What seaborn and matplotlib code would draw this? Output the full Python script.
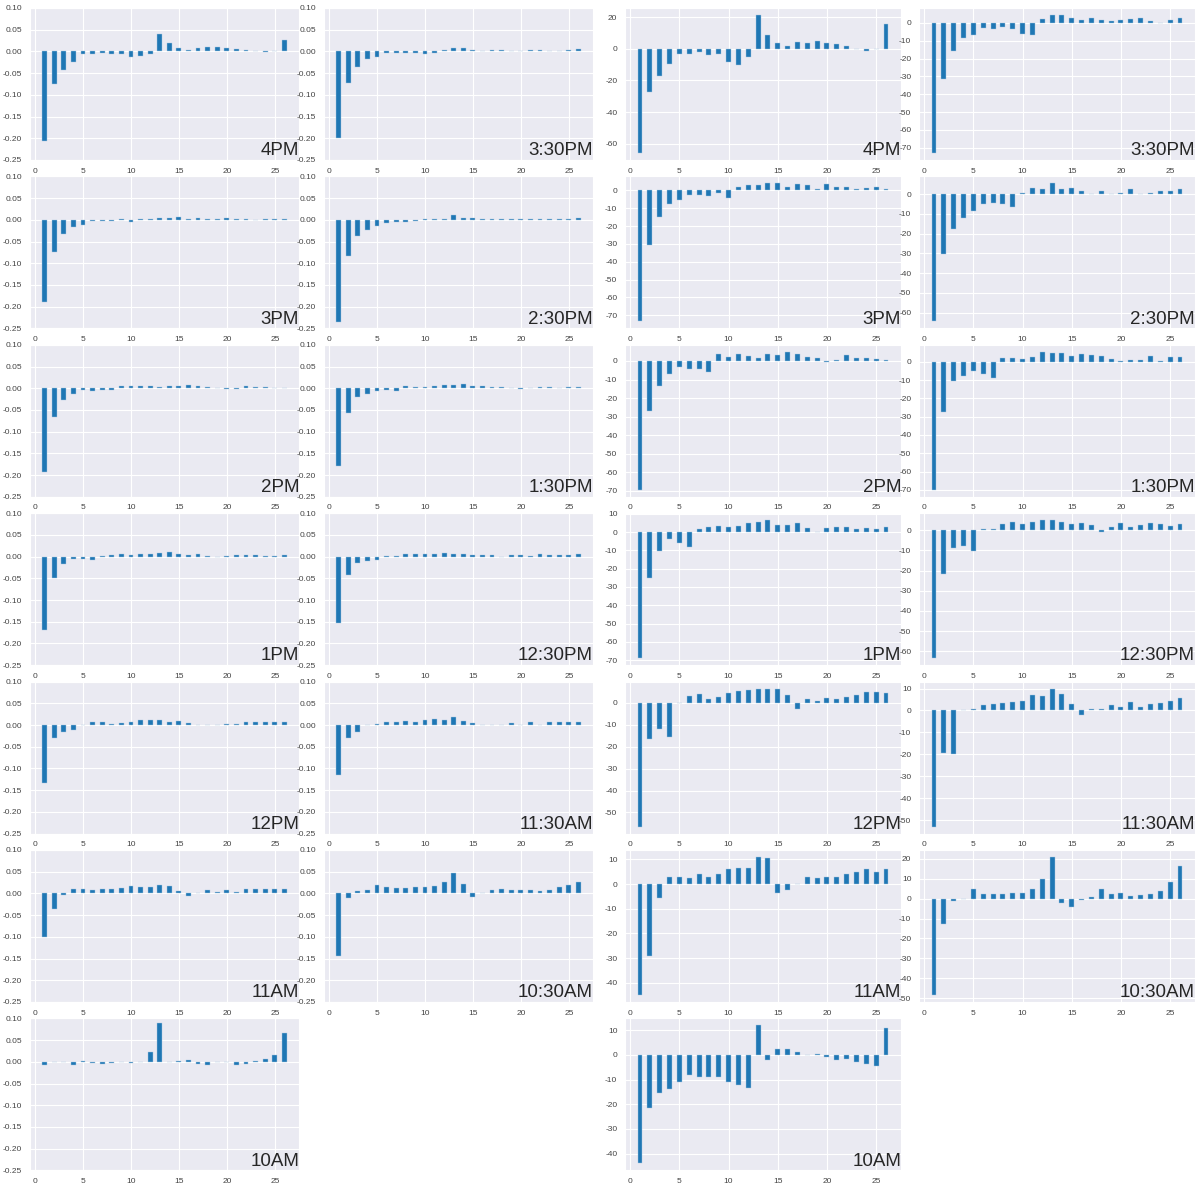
import matplotlib
matplotlib.use("Agg")
import matplotlib.pyplot as plt
import seaborn as sns
from matplotlib.ticker import MaxNLocator, MultipleLocator

sns.set_style("darkgrid")
plt.rcParams["font.family"] = ["Liberation Sans", "DejaVu Sans"]
plt.rcParams["axes.unicode_minus"] = False

lags = list(range(1, 27))
labels = ["4PM", "3:30PM", "3PM", "2:30PM", "2PM", "1:30PM", "1PM",
          "12:30PM", "12PM", "11:30AM", "11AM", "10:30AM", "10AM"]

# left block: autocorrelation of returns
left_4pm = [-0.207, -0.075, -0.042, -0.024, -0.007, -0.007, -0.004, -0.006, -0.005, -0.013, -0.011, -0.005, 0.040,
            0.019, 0.007, 0.003, 0.009, 0.010, 0.010, 0.007, 0.006, 0.003, 0.000, -0.001, 0.000, 0.026]
left_330pm = [-0.200, -0.072, -0.035, -0.017, -0.013, -0.004, -0.004, -0.003, -0.003, -0.005, -0.004, 0.003, 0.008,
              0.008, 0.003, 0.002, 0.004, 0.003, 0.002, 0.001, 0.003, 0.003, 0.000, 0.000, 0.003, 0.005]
left_3pm = [-0.190, -0.073, -0.033, -0.016, -0.011, -0.003, -0.002, -0.002, 0.001, -0.004, 0.002, 0.003, 0.005,
            0.005, 0.006, 0.003, 0.005, 0.003, 0.001, 0.005, 0.003, 0.001, 0.000, 0.002, 0.003, 0.001]
left_230pm = [-0.235, -0.084, -0.038, -0.023, -0.015, -0.008, -0.005, -0.004, -0.002, 0.001, 0.003, 0.003, 0.010,
              0.005, 0.005, 0.003, 0.001, 0.003, 0.001, 0.001, 0.003, 0.001, 0.001, 0.003, 0.003, 0.005]
left_2pm = [-0.193, -0.066, -0.028, -0.014, -0.004, -0.006, -0.004, -0.003, 0.006, 0.004, 0.005, 0.004, 0.002,
            0.006, 0.006, 0.008, 0.006, 0.003, 0.001, -0.001, -0.001, 0.005, 0.002, 0.002, 0.001, 0.001]
left_130pm = [-0.180, -0.057, -0.020, -0.013, -0.007, -0.005, -0.006, 0.004, 0.003, 0.003, 0.004, 0.008, 0.008,
              0.009, 0.005, 0.006, 0.003, 0.003, 0.001, -0.001, 0.001, 0.002, 0.003, 0.001, 0.003, 0.003]
left_1pm = [-0.169, -0.050, -0.017, -0.005, -0.005, -0.007, 0.002, 0.004, 0.006, 0.004, 0.006, 0.007, 0.008,
            0.010, 0.006, 0.004, 0.005, 0.001, 0.000, 0.001, 0.004, 0.004, 0.003, 0.002, 0.001, 0.003]
left_1230pm = [-0.152, -0.042, -0.014, -0.009, -0.007, 0.001, 0.001, 0.005, 0.006, 0.006, 0.006, 0.008, 0.006,
               0.006, 0.004, 0.004, 0.003, 0.000, 0.003, 0.003, 0.001, 0.005, 0.004, 0.004, 0.004, 0.005]
left_12pm = [-0.134, -0.029, -0.015, -0.011, 0.001, 0.006, 0.007, 0.002, 0.005, 0.008, 0.012, 0.011, 0.011,
             0.008, 0.009, 0.004, 0.000, 0.001, 0.001, 0.003, 0.003, 0.006, 0.006, 0.007, 0.008, 0.006]
left_1130am = [-0.115, -0.029, -0.017, 0.001, 0.002, 0.008, 0.007, 0.009, 0.008, 0.011, 0.014, 0.012, 0.018,
               0.010, 0.004, 0.000, 0.001, 0.001, 0.005, 0.001, 0.006, 0.001, 0.006, 0.007, 0.007, 0.008]
left_11am = [-0.100, -0.037, -0.003, 0.010, 0.010, 0.009, 0.011, 0.010, 0.012, 0.016, 0.015, 0.015, 0.020,
             0.017, 0.005, -0.005, 0.000, 0.007, 0.004, 0.007, 0.004, 0.010, 0.010, 0.010, 0.010, 0.011]
left_1030am = [-0.143, -0.010, 0.005, 0.009, 0.019, 0.015, 0.012, 0.012, 0.015, 0.014, 0.017, 0.027, 0.048,
               0.021, -0.008, 0.000, 0.007, 0.010, 0.008, 0.008, 0.008, 0.005, 0.009, 0.014, 0.020, 0.027]
left_10am = [-0.008, 0.000, 0.000, -0.008, 0.001, -0.003, -0.005, -0.003, -0.001, -0.003, 0.000, 0.023, 0.090,
             0.000, 0.001, 0.005, -0.004, -0.008, 0.000, 0.000, -0.008, -0.004, 0.002, 0.007, 0.016, 0.066]

# right block: t-statistics
right_4pm = [-66, -27, -17, -9.5, -3, -3, -2, -4, -3, -8.5, -10, -5, 21.5,
             9, 4, 1.5, 4.5, 4, 5, 4, 3, 1.5, 0, -1.5, 0, 15.5]
right_330pm = [-73, -31.5, -15.5, -8.5, -6.5, -3, -3.5, -2.5, -3.5, -6, -7, 2, 4.5,
               4.5, 2.5, 1.5, 2.5, 1.5, 1, 1.5, 2, 3, 1, 0, 1.5, 2.5]
right_3pm = [-73.5, -30.5, -15, -7.5, -5.5, -2.5, -2.5, -3, -1.5, -4.5, 2, 3, 3,
             4, 4, 2, 3.5, 3, 1, 3.5, 2, 2, 1, 1.5, 2, 1]
right_230pm = [-64.5, -30.5, -17.5, -12, -8.5, -5, -4.5, -5, -6.5, 0.7, 3, 2.5, 5.5,
               2.5, 3, 1.5, 0.2, 1.5, 0.3, 0.5, 2.5, 0.2, 0.5, 1.5, 1.5, 2.5]
right_2pm = [-69.5, -27, -13.5, -7, -3, -4.5, -4.5, -6, 3.5, 2, 3.5, 2.5, 1.5,
             3.5, 3, 5, 3.5, 2, 1.5, -0.5, 0.5, 3, 1.5, 1.5, 1, 0.5]
right_130pm = [-70, -27.5, -10.5, -7.5, -5, -6.5, -9, 2, 2, 1.5, 2.5, 5.5, 5,
               5, 3, 4.5, 3.5, 3, 1.5, 0.3, 1, 1, 3, 0.2, 2.5, 2.5]
right_1pm = [-69, -25, -10.5, -4, -6, -8, 1.5, 2.5, 3.5, 3, 3.5, 5, 5.5,
             6.5, 4, 4, 5, 2, 0, 2, 3, 2.5, 1.5, 2, 1.5, 2.5]
right_1230pm = [-63.5, -21.5, -9, -8, -10.5, 0.7, 0.7, 3, 4, 3, 4, 5, 5,
                4, 3, 3.5, 2.5, -0.7, 1.5, 3.5, 1.5, 2.5, 3.5, 3, 2, 3]
right_12pm = [-56.5, -16.5, -12, -15.5, -0.3, 3, 4, 1.5, 2.5, 4.5, 5.5, 6, 6.5,
              6.5, 6.5, 3.5, -3, 1.5, 1, 2, 1.5, 2.5, 3.5, 5, 5, 4.5]
right_1130am = [-53, -19.5, -20, 0, 0.5, 2.5, 3, 3.5, 4, 4.5, 7, 6.5, 10,
                7.5, 3, -2, 0.5, 0.5, 2.5, 1.5, 4, 1.5, 3, 3.5, 4.5, 5.5]
right_11am = [-45, -29, -5.5, 3, 3, 2.5, 4, 3, 4, 6, 6.5, 6.5, 11,
              10.5, -3.5, -2.5, 0, 3, 2.5, 3, 3, 4, 5, 6, 5, 6]
right_1030am = [-48.5, -12.5, -1, 0, 5, 2.5, 2.5, 2.5, 3, 3, 5, 10, 21,
                -2, -4, -0.5, 1, 5, 2.5, 3, 1.5, 2, 2.5, 4, 8.5, 16.5]
right_10am = [-44, -21.5, -15.5, -14, -11, -8, -9, -9, -9, -11, -12, -13.5, 12,
              -2, 2.5, 2.5, 1, -0.2, 0.3, -1, -2, -1.5, -3, -3.5, -4.5, 11]

left_series = [left_4pm, left_330pm, left_3pm, left_230pm, left_2pm, left_130pm, left_1pm,
               left_1230pm, left_12pm, left_1130am, left_11am, left_1030am, left_10am]
right_series = [right_4pm, right_330pm, right_3pm, right_230pm, right_2pm, right_130pm, right_1pm,
                right_1230pm, right_12pm, right_1130am, right_11am, right_1030am, right_10am]

W, H = 1203, 1183
fig = plt.figure(figsize=(W / 100, H / 100), dpi=100)

# pixel boxes of the four panel columns (left, width) and rows
cols = [(30, 269), (324, 269), (625, 276), (919, 276)]
row_top, row_step, row_h = 8, 168.4, 152


def panel(col, row):
    x0, w = cols[col]
    top = row_top + row * row_step
    return fig.add_axes([x0 / W, 1 - (top + row_h) / H, w / W, row_h / H])


def draw(ax, vals, label):
    sns.barplot(x=lags, y=vals, ax=ax, native_scale=True, width=0.5,
                color="#1f77b4", saturation=1, errorbar=None,
                edgecolor="#a9c8e0", linewidth=0.3)
    ax.set_xlabel("")
    ax.set_ylabel("")
    ax.xaxis.set_major_locator(MultipleLocator(5))
    ax.grid(color="white", linewidth=0.8)
    ax.tick_params(labelsize=6, colors="#444444", pad=2)
    ax.text(1.0, 0.005, label, transform=ax.transAxes, ha="right", va="bottom",
            fontsize=13.5, color="#262626")


for i, (vals, label) in enumerate(zip(left_series, labels)):
    ax = panel(i % 2, i // 2)
    draw(ax, vals, label)
    ax.set_ylim(-0.25, 0.10)
    ax.yaxis.set_major_locator(MultipleLocator(0.05))

for i, (vals, label) in enumerate(zip(right_series, labels)):
    ax = panel(2 + i % 2, i // 2)
    draw(ax, vals, label)
    ax.yaxis.set_major_locator(MaxNLocator(nbins=9, steps=[1, 2, 2.5, 5, 10]))

fig.savefig("out.png", dpi=100)
plt.close(fig)
